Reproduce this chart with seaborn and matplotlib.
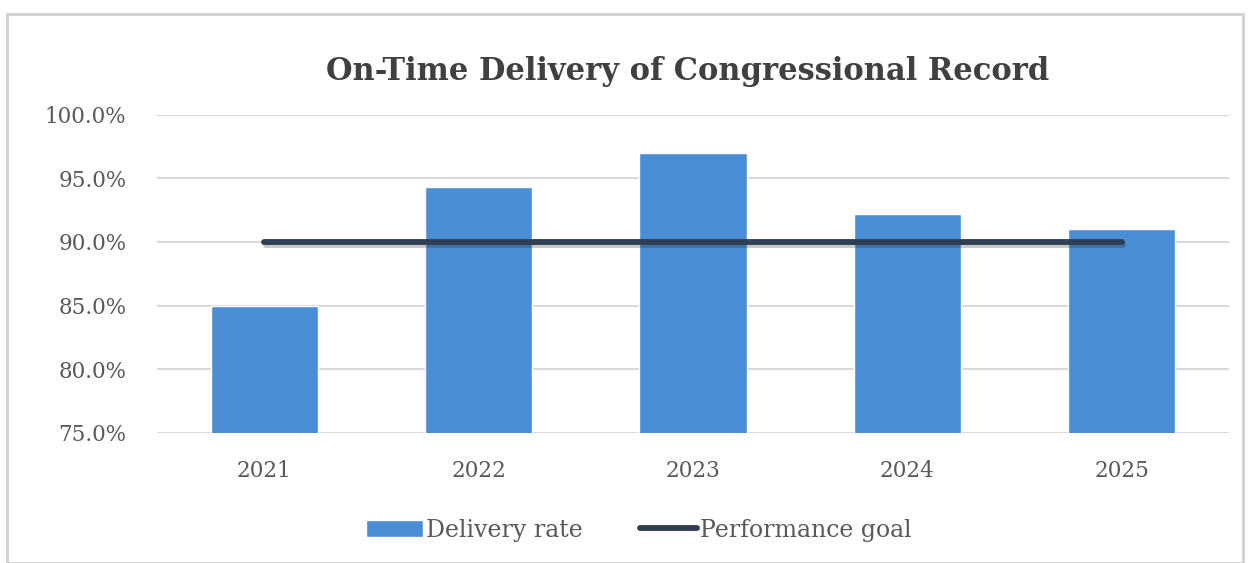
import matplotlib
matplotlib.use('Agg')
import matplotlib.pyplot as plt
import matplotlib.patheffects as pe
import seaborn as sns
import pandas as pd
from matplotlib.patches import Rectangle
from matplotlib.lines import Line2D
from matplotlib.ticker import FuncFormatter

# Chart data
years = ['2021', '2022', '2023', '2024', '2025']
delivery_rate = [85.0, 94.3, 97.0, 92.2, 91.0]
performance_goal = [90.0, 90.0, 90.0, 90.0, 90.0]

df = pd.DataFrame({'Year': years, 'Delivery rate': delivery_rate,
                   'Performance goal': performance_goal})

sns.set_theme(style='white')
plt.rcParams['font.family'] = ['DejaVu Serif']

bar_color = '#4a8fd6'
line_color = '#2f3e52'
text_color = '#595959'

fig = plt.figure(figsize=(12.48, 5.63), dpi=100)
ax = fig.add_axes([0.1258, 0.2314, 0.8590, 0.5649])

sns.barplot(data=df, x='Year', y='Delivery rate', color=bar_color,
            width=0.5, saturation=1, ax=ax, zorder=3)
sns.lineplot(data=df, x='Year', y='Performance goal', color=line_color,
             linewidth=4.2, ax=ax, zorder=4,
             path_effects=[pe.SimpleLineShadow(offset=(1, -2), alpha=0.25),
                           pe.Normal()])

ax.set_ylim(75, 100)
ax.set_yticks([75, 80, 85, 90, 95, 100])
ax.yaxis.set_major_formatter(FuncFormatter(lambda v, p: f'{v:.1f}%'))
ax.set_xlim(-0.5, 4.5)
ax.grid(axis='y', color='#d9d9d9', linewidth=1.5, zorder=0)
ax.set_axisbelow(True)
for s in ax.spines.values():
    s.set_visible(False)
ax.set_xlabel('')
ax.set_ylabel('')
ax.tick_params(axis='both', length=0, labelsize=15.5, colors=text_color)
ax.tick_params(axis='y', pad=22)
ax.tick_params(axis='x', pad=20)

fig.text(0.551, 0.873, 'On-Time Delivery of Congressional Record',
         ha='center', va='center', fontsize=22, fontweight='bold',
         color='#404040')

handles = [Rectangle((0, 0), 1, 1, facecolor=bar_color),
           Line2D([0], [0], color=line_color, linewidth=4.2)]
fig.legend(handles, ['Delivery rate', 'Performance goal'], loc='center',
           bbox_to_anchor=(0.512, 0.058), ncol=2, frameon=False,
           fontsize=17, labelcolor=text_color, handlelength=2.4,
           handleheight=0.75, handletextpad=0.15, columnspacing=2.4)

# light frame around the chart
fig.patches.append(Rectangle((0.006, 0.0), 0.99, 0.975, transform=fig.transFigure,
                             fill=False, edgecolor='#d0d0d0', linewidth=2))

fig.savefig('out.png', dpi=100)
